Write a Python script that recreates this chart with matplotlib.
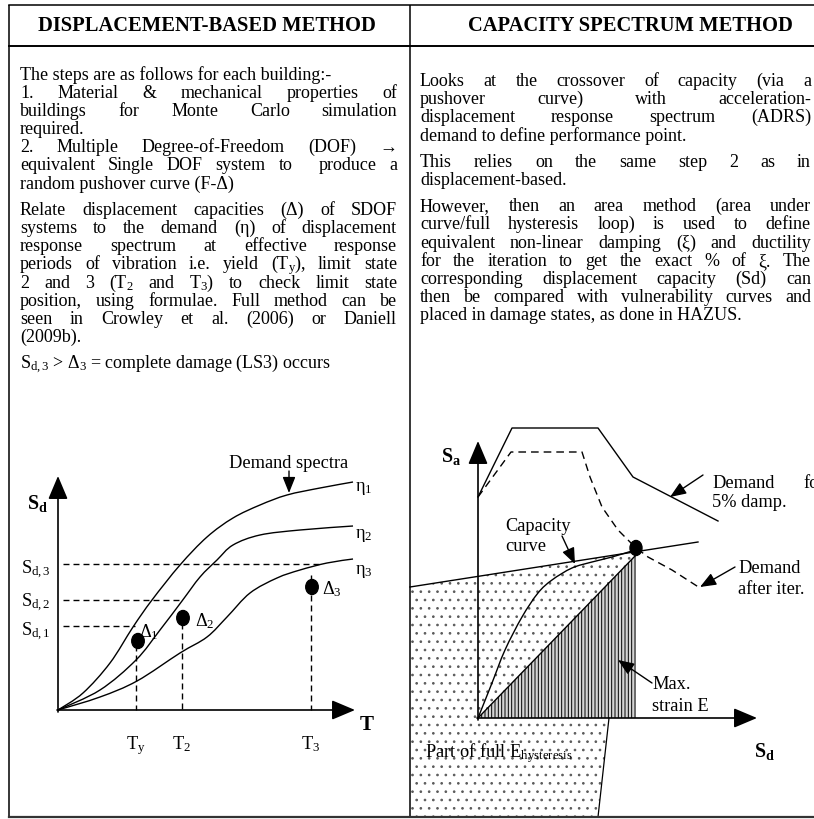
import re
import matplotlib
matplotlib.use("Agg")
import matplotlib.pyplot as plt
from matplotlib.patches import Polygon, Ellipse, PathPatch
from matplotlib.path import Path
import numpy as np

# ---------------- data ----------------
header_left = "DISPLACEMENT-BASED METHOD"
header_right = "CAPACITY SPECTRUM METHOD"

# (text, justified, paragraph_break_before)
left_lines = [
    ("The steps are as follows for each building:-", False, False),
    ("1. Material & mechanical properties of", True, False),
    ("buildings for Monte Carlo simulation", True, False),
    ("required.", False, False),
    ("2. Multiple Degree-of-Freedom (DOF) \u2192", True, False),
    ("equivalent Single DOF system to  produce a", True, False),
    ("random pushover curve (F-\u0394)", False, False),
    ("Relate displacement capacities (\u0394) of SDOF", True, True),
    ("systems to the demand (\u03b7) of displacement", True, False),
    ("response spectrum at effective response", True, False),
    ("periods of vibration i.e. yield (T$_{\\mathrm{y}}$), limit state", True, False),
    ("2 and 3 (T$_{\\mathrm{2}}$ and T$_{\\mathrm{3}}$) to check limit state", True, False),
    ("position, using formulae. Full method can be", True, False),
    ("seen in Crowley et al. (2006) or Daniell", True, False),
    ("(2009b).", False, False),
    ("S$_{\\mathrm{d,3}}$ > \u0394$_{\\mathrm{3}}$ = complete damage (LS3) occurs", False, True),
]
right_lines = [
    ("Looks at the crossover of capacity (via a", True, False),
    ("pushover curve) with acceleration-", True, False),
    ("displacement response spectrum (ADRS)", True, False),
    ("demand to define performance point.", False, False),
    ("This relies on the same step 2 as in", True, True),
    ("displacement-based.", False, False),
    ("However, then an area method (area under", True, True),
    ("curve/full hysteresis loop) is used to define", True, False),
    ("equivalent non-linear damping (\u03be) and ductility", True, False),
    ("for the iteration to get the exact % of \u03be. The", True, False),
    ("corresponding displacement capacity (Sd) can", True, False),
    ("then be compared with vulnerability curves and", True, False),
    ("placed in damage states, as done in HAZUS.", False, False),
]

# left diagram: demand spectra curves (pixel space of the sketch)
eta1_x = [58, 83, 110, 133, 152, 180, 207, 233, 260, 287, 320, 353]
eta1_y = [711, 694, 664, 628, 601, 566, 538, 519, 506, 496, 489, 483]
eta2_x = [58, 100, 136, 160, 182, 200, 217, 233, 260, 300, 353]
eta2_y = [711, 691, 661, 631, 602, 578, 561, 546, 536, 531, 527]
eta3_x = [58, 100, 137, 180, 207, 227, 250, 277, 300, 327, 353]
eta3_y = [711, 698, 682, 654, 638, 618, 594, 579, 571, 564, 560]
eta_labels = ["\u03b7$_{\\mathrm{1}}$", "\u03b7$_{\\mathrm{2}}$", "\u03b7$_{\\mathrm{3}}$"]
eta_label_y = [491, 538, 574]

sd_levels_y = [627, 601, 565]          # S_d,1 S_d,2 S_d,3
sd_levels_xend = [135, 183, 320]
sd_labels = ["S$_{\\mathrm{d,1}}$", "S$_{\\mathrm{d,2}}$", "S$_{\\mathrm{d,3}}$"]
sd_label_y = [636, 607, 574]

period_x = [136, 182, 311]
period_top = [646, 624, 576]
period_labels = ["T$_{\\mathrm{y}}$", "T$_{\\mathrm{2}}$", "T$_{\\mathrm{3}}$"]
cap_pts_x = [138, 183, 312]
cap_pts_y = [642, 619, 588]
delta_labels = ["\u0394$_{\\mathrm{1}}$", "\u0394$_{\\mathrm{2}}$", "\u0394$_{\\mathrm{3}}$"]
delta_label_xy = [(139, 637), (195, 626), (322, 594)]

# right diagram
demand5_x = [478, 512, 598, 633, 718]
demand5_y = [498, 429, 429, 478, 522]
demand_it_x = [478, 511, 582, 590, 602, 618, 635, 648, 672, 700]
demand_it_y = [498, 453, 453, 478, 508, 531, 548, 558, 571, 589]
capacity_x = [478, 492, 505, 522, 538, 552, 572, 592, 612, 635]
capacity_y = [719, 684, 651, 618, 594, 581, 569, 563, 558, 551]
tangent_x = [410, 698]
tangent_y = [588, 543]
perf_pt = (636, 549)
strain_tri = [(478, 719), (636, 556), (636, 719)]
hyst_poly = [(410, 588), (636, 553), (636, 719), (609, 719), (598, 818), (410, 818)]

# ---------------- figure ----------------
W, H, DPI = 814, 820, 100
plt.rcParams["font.family"] = ["Liberation Serif", "DejaVu Serif"]
plt.rcParams["mathtext.fontset"] = "custom"
plt.rcParams["mathtext.rm"] = "Liberation Serif"
plt.rcParams["mathtext.it"] = "Liberation Serif:italic"
plt.rcParams["mathtext.bf"] = "Liberation Serif:bold"
plt.rcParams["hatch.linewidth"] = 0.7


def px(v):
    return v * 72.0 / DPI


fig = plt.figure(figsize=(W / DPI, H / DPI), dpi=DPI)
ax = fig.add_axes([0, 0, 1, 1])
ax.set_xlim(0, W)
ax.set_ylim(H, 0)
ax.axis("off")
renderer = fig.canvas.get_renderer()

FS = px(18.0)
FSD = px(18.4)


def wwidth(s, fs, **kw):
    t = ax.text(0, 0, s, fontsize=fs, **kw)
    w = t.get_window_extent(renderer).width
    t.remove()
    return w


def draw_line(text, x0, x1, y, fs, justify):
    if not justify:
        ax.text(x0, y, text, fontsize=fs, ha="left", va="baseline", zorder=6)
        return
    toks = re.split(r"( +)", text)
    words = [t for t in toks if t and not t.startswith(" ")]
    spaces = [len(t) for t in toks if t.startswith(" ")]
    widths = [wwidth(w, fs) for w in words]
    unit = (x1 - x0 - sum(widths)) / max(sum(spaces), 1)
    x = x0
    for i, (w, wd) in enumerate(zip(words, widths)):
        ax.text(x, y, w, fontsize=fs, ha="left", va="baseline", zorder=6)
        if i < len(spaces):
            x += wd + unit * spaces[i]


def draw_block(lines, x0, x1, y0, step, extra):
    y = y0
    for i, (t, j, para) in enumerate(lines):
        if i > 0:
            y += step + (extra if para else 0)
        draw_line(t, x0, x1, y, FS, j)


draw_block(left_lines, 20, 397, 79.5, 18.2, 8)
draw_block(right_lines, 420, 811, 86, 18.2, 8)

# headers
ax.text(207, 31, header_left, fontsize=px(20.5), fontweight="bold", ha="center", va="baseline")
ax.text(630, 31, header_right, fontsize=px(20.5), fontweight="bold", ha="center", va="baseline")

# frame
flw = 1.1
ax.plot([8.5, 8.5], [6, 818], color="k", lw=flw, zorder=8, solid_capstyle="butt")
ax.plot([409.5, 409.5], [6, 818], color="k", lw=flw, zorder=8, solid_capstyle="butt")
ax.plot([8.5, 814], [6, 6], color="k", lw=flw, zorder=8)
ax.plot([8.5, 814], [47, 47], color="k", lw=1.4, zorder=8)
ax.plot([8.5, 814], [818, 818], color="#333333", lw=1.6, zorder=8)


def smooth(xs, ys, **kw):
    P = np.column_stack([xs, ys]).astype(float)
    verts = [P[0]]
    codes = [Path.MOVETO]
    n = len(P)
    for i in range(n - 1):
        p0 = P[i - 1] if i > 0 else P[i]
        p1 = P[i]
        p2 = P[i + 1]
        p3 = P[i + 2] if i + 2 < n else P[i + 1]
        c1 = p1 + (p2 - p0) / 6.0
        c2 = p2 - (p3 - p1) / 6.0
        verts += [c1, c2, p2]
        codes += [Path.CURVE4] * 3
    ax.add_patch(PathPatch(Path(verts, codes), fill=False, **kw))


def arrow(tail, tip, big=False, lw=1.0):
    if big:
        style = "-|>,head_length=0.9,head_width=0.38"
        ms = 16
    else:
        style = "-|>,head_length=0.75,head_width=0.3"
        ms = 13
    ax.annotate("", xy=tip, xytext=tail,
                arrowprops=dict(arrowstyle=style, color="k", lw=lw, shrinkA=0, shrinkB=0,
                                mutation_scale=ms), zorder=7)


dash_l = (0, (4.3, 2.9))

# ---- left diagram ----
arrow((58, 713), (58, 477), big=True, lw=1.2)
arrow((57, 711), (355, 711), big=True, lw=1.2)
for xs, ys in [(eta1_x, eta1_y), (eta2_x, eta2_y), (eta3_x, eta3_y)]:
    smooth(xs, ys, color="k", lw=1.0, zorder=4)
for lab, yy in zip(eta_labels, eta_label_y):
    ax.text(355, yy, lab, fontsize=FSD, ha="left", va="baseline")
for yy, xe, lab, ly in zip(sd_levels_y, sd_levels_xend, sd_labels, sd_label_y):
    ax.plot([63, xe], [yy, yy], color="k", lw=1.0, ls=dash_l, zorder=3)
    ax.text(51, ly, lab, fontsize=FSD, ha="right", va="baseline")
for xx, yt, lab in zip(period_x, period_top, period_labels):
    ax.plot([xx, xx], [yt, 711], color="k", lw=1.0, ls=dash_l, zorder=3)
    ax.text(xx, 749, lab, fontsize=FSD, ha="center", va="baseline")
for xx, yy in zip(cap_pts_x, cap_pts_y):
    ax.add_patch(Ellipse((xx, yy), 12.5, 15, color="k", zorder=5))
for lab, (xx, yy) in zip(delta_labels, delta_label_xy):
    ax.text(xx, yy, lab, fontsize=FSD, ha="left", va="baseline", zorder=6)
ax.text(38, 509, "$\\mathbf{S}_{\\mathbf{d}}$", fontsize=px(20), ha="center", va="baseline")
ax.text(367, 730, "T", fontsize=px(21), fontweight="bold", ha="center", va="baseline")
ax.text(289, 468, "Demand spectra", fontsize=FSD, ha="center", va="baseline")
arrow((289, 472), (289, 494))

# ---- right diagram ----
ax.add_patch(Polygon(hyst_poly, closed=True, facecolor="white", edgecolor="#5a5a5a",
                     lw=0, hatch="..", zorder=1))
ax.plot([609, 598], [719, 818], color="k", lw=0.9, zorder=3)
ax.add_patch(Polygon(strain_tri, closed=True, facecolor="#d4d4d4", edgecolor="k",
                     lw=0, hatch="|||||", zorder=2))
ax.plot([strain_tri[0][0], strain_tri[1][0]], [strain_tri[0][1], strain_tri[1][1]],
        color="k", lw=1.0, zorder=3)
ax.plot(tangent_x, tangent_y, color="k", lw=1.0, zorder=4)
smooth(capacity_x, capacity_y, color="k", lw=1.0, zorder=4)
ax.plot(demand5_x, demand5_y, color="k", lw=1.0, zorder=4)
ax.plot(demand_it_x, demand_it_y, color="k", lw=1.0, ls=(0, (5.5, 3.6)), zorder=4)
ax.add_patch(Ellipse(perf_pt, 12, 15, color="k", zorder=5))
arrow((478, 721), (478, 442), big=True, lw=1.2)
arrow((477, 719), (757, 719), big=True, lw=1.2)
ax.text(451, 462, "$\\mathbf{S}_{\\mathbf{a}}$", fontsize=px(20), ha="center", va="baseline")
ax.text(765, 757, "$\\mathbf{S}_{\\mathbf{d}}$", fontsize=px(20), ha="center", va="baseline")

ax.text(505, 531, "Capacity", fontsize=FSD, ha="left", va="baseline", zorder=6)
ax.text(505, 551, "curve", fontsize=FSD, ha="left", va="baseline", zorder=6)
arrow((562, 537), (575, 565))
ax.text(712, 488, "Demand", fontsize=FSD, ha="left", va="baseline")
ax.text(803, 488, "for", fontsize=FSD, ha="left", va="baseline")
ax.text(712, 507, "5% damp.", fontsize=FSD, ha="left", va="baseline")
arrow((703, 476), (670, 498))
ax.text(738, 573, "Demand", fontsize=FSD, ha="left", va="baseline")
ax.text(738, 594, "after iter.", fontsize=FSD, ha="left", va="baseline")
arrow((735, 568), (700, 588))
ax.text(652, 689, "Max.", fontsize=FSD, ha="left", va="baseline", zorder=6)
ax.text(652, 711, "strain E", fontsize=FSD, ha="left", va="baseline", zorder=6)
arrow((652, 684), (618, 661))
ax.text(425, 757, "Part of full E$_{\\mathrm{hysteresis}}$", fontsize=FSD, ha="left",
        va="baseline", zorder=6)

fig.savefig("out.png", dpi=DPI)
